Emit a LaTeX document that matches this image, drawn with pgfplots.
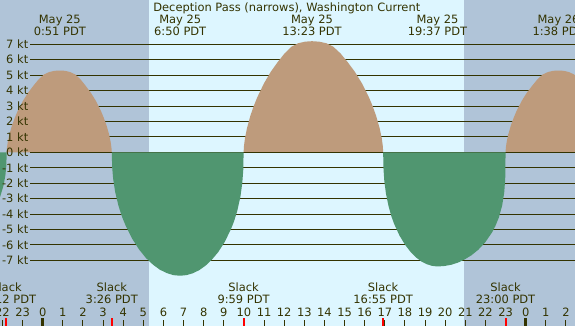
\documentclass[border=0pt]{standalone}
\usepackage{fontspec}
\setmainfont{DejaVu Sans}
\usepackage{pgfplots}
\pgfplotsset{compat=1.18}
\definecolor{night}{RGB}{176,196,216}
\definecolor{day}{RGB}{221,246,255}
\definecolor{flood}{RGB}{190,155,124}
\definecolor{ebb}{RGB}{80,150,112}
\definecolor{fg}{RGB}{51,51,0}
\definecolor{slackred}{RGB}{255,0,0}
\tikzset{lbl/.style={font=\fontsize{11.5}{14}\selectfont, text=fg, inner sep=0pt, anchor=base}}

\begin{document}
\begin{tikzpicture}
\path[use as bounding box] (0,0) rectangle (575bp,326bp);
\clip (0,0) rectangle (575bp,326bp);
\begin{axis}[
    at={(0,0)}, anchor=south west,
    scale only axis,
    width=575bp, height=326bp,
    xmin=-2.1217, xmax=26.45,
    ymin=-11.257, ymax=9.870,
    axis lines=none,
    xtick=\empty, ytick=\empty,
]

% night / day background (sunrise ~5:17, sunset ~20:56)
\addplot[draw=none, fill=night] coordinates {(-3,-12) (5.282,-12) (5.282,11) (-3,11)};
\addplot[draw=none, fill=day] coordinates {(5.282,-12) (20.934,-12) (20.934,11) (5.282,11)};
\addplot[draw=none, fill=night] coordinates {(20.934,-12) (28,-12) (28,11) (20.934,11)};

% kt grid lines
\pgfplotsinvokeforeach{-7,-6,-5,-4,-3,-2,-1,1,2,3,4,5,6,7}{
  \draw[fg, line width=1bp] (axis cs:-0.63,#1) -- (axis cs:28,#1);
}

% flood (positive)
\addplot[draw=none, fill=flood] coordinates {
 (-1.79,0) (-1.777,0.29) (-1.737,0.66) (-1.658,1.15) (-1.526,1.74) (-1.394,2.21) (-1.262,2.62)
 (-0.998,3.30) (-0.734,3.85) (-0.470,4.30) (-0.206,4.72) (0.058,5.04) (0.322,5.20) (0.586,5.28)
 (0.85,5.30) (1.108,5.28) (1.366,5.20) (1.624,5.04) (1.882,4.72) (2.140,4.30) (2.398,3.85)
 (2.656,3.30) (2.914,2.62) (3.043,2.21) (3.172,1.74) (3.301,1.15) (3.378,0.66) (3.417,0.29) (3.433,0)
};
\addplot[draw=none, fill=flood] coordinates {
 (9.983,0) (10.0,0.39) (10.05,0.90) (10.15,1.56) (10.32,2.37) (10.49,3.01) (10.66,3.56)
 (11.00,4.48) (11.34,5.23) (11.68,5.85) (12.02,6.41) (12.36,6.84) (12.70,7.07) (13.04,7.17)
 (13.38,7.20) (13.734,7.17) (14.088,7.07) (14.442,6.84) (14.796,6.41) (15.15,5.85) (15.504,5.23)
 (15.858,4.48) (16.212,3.56) (16.389,3.01) (16.566,2.37) (16.743,1.56) (16.849,0.90) (16.902,0.39) (16.917,0)
};
\addplot[draw=none, fill=flood] coordinates {
 (23.0,0) (23.013,0.29) (23.053,0.66) (23.132,1.15) (23.263,1.74) (23.395,2.21) (23.526,2.62)
 (23.789,3.30) (24.052,3.85) (24.315,4.30) (24.578,4.72) (24.841,5.04) (25.104,5.20) (25.367,5.28)
 (25.63,5.30) (25.89,5.28) (26.15,5.20) (26.41,5.04) (26.67,4.72) (26.67,0)
};

% zero line
\draw[fg, line width=1bp] (axis cs:-0.63,0) -- (axis cs:28,0);

% ebb (negative)
\addplot[draw=none, fill=ebb] coordinates {
 (-2.30,0) (-2.30,-3.50) (-2.27,-3.35) (-2.11,-2.86) (-1.95,-2.17) (-1.854,-1.50) (-1.806,-0.86) (-1.79,0)
};
\addplot[draw=none, fill=ebb] coordinates {
 (3.433,0) (3.45,-0.93) (3.50,-1.71) (3.60,-2.57) (3.77,-3.49) (3.94,-4.17) (4.11,-4.72)
 (4.45,-5.61) (4.79,-6.30) (5.13,-6.85) (5.47,-7.27) (5.81,-7.60) (6.15,-7.82) (6.49,-7.96)
 (6.83,-8.00) (7.145,-7.96) (7.46,-7.84) (7.775,-7.64) (8.09,-7.35) (8.405,-6.96) (8.72,-6.47)
 (9.035,-5.83) (9.35,-5.00) (9.508,-4.47) (9.665,-3.81) (9.823,-2.89) (9.917,-2.00) (9.966,-1.15) (9.983,0)
};
\addplot[draw=none, fill=ebb] coordinates {
 (16.917,0) (16.934,-1.06) (16.974,-1.85) (17.055,-2.67) (17.19,-3.52) (17.325,-4.14) (17.46,-4.63)
 (17.73,-5.40) (18.00,-5.98) (18.27,-6.44) (18.54,-6.80) (18.81,-7.07) (19.08,-7.25) (19.35,-7.36)
 (19.62,-7.40) (19.958,-7.37) (20.296,-7.29) (20.634,-7.15) (20.972,-6.94) (21.31,-6.67) (21.648,-6.31)
 (21.986,-5.84) (22.324,-5.20) (22.493,-4.78) (22.662,-4.24) (22.831,-3.45) (22.932,-2.62) (22.983,-1.73) (23.0,0)
};

% kt labels
\pgfplotsinvokeforeach{-7,...,7}{
  \node[lbl, anchor=east] at (axis cs:-0.706,#1) {#1 kt};
}

% title
\node[lbl] at (axis cs:12.13,9.125) {Deception Pass (narrows), Washington Current};

% max flood / ebb times
\node[lbl] at (axis cs:0.85,8.35) {May 25};    \node[lbl] at (axis cs:0.85,7.54) {0:51 PDT};
\node[lbl] at (axis cs:6.833,8.35) {May 25};   \node[lbl] at (axis cs:6.833,7.54) {6:50 PDT};
\node[lbl] at (axis cs:13.383,8.35) {May 25};  \node[lbl] at (axis cs:13.383,7.54) {13:23 PDT};
\node[lbl] at (axis cs:19.617,8.35) {May 25};  \node[lbl] at (axis cs:19.617,7.54) {19:37 PDT};
\node[lbl] at (axis cs:25.633,8.35) {May 26};  \node[lbl] at (axis cs:25.633,7.54) {1:38 PDT};

% slack times
\node[lbl] at (axis cs:-1.8,-8.99) {Slack};    \node[lbl] at (axis cs:-1.8,-9.83) {22:12 PDT};
\node[lbl] at (axis cs:3.433,-8.99) {Slack};   \node[lbl] at (axis cs:3.433,-9.83) {3:26 PDT};
\node[lbl] at (axis cs:9.983,-8.99) {Slack};   \node[lbl] at (axis cs:9.983,-9.83) {9:59 PDT};
\node[lbl] at (axis cs:16.917,-8.99) {Slack};  \node[lbl] at (axis cs:16.917,-9.83) {16:55 PDT};
\node[lbl] at (axis cs:23.0,-8.99) {Slack};    \node[lbl] at (axis cs:23.0,-9.83) {23:00 PDT};

% hour scale
\pgfplotsinvokeforeach{-2,...,26}{
  \node[lbl] at (axis cs:#1,-10.61) {\pgfmathparse{int(mod(#1+24,24))}\pgfmathresult};
  \draw[fg, line width=1bp] (axis cs:#1,-10.87) -- (axis cs:#1,-11.4);
}
\draw[fg, line width=3.5bp] (axis cs:0,-10.76) -- (axis cs:0,-11.4);
\draw[fg, line width=3.5bp] (axis cs:24,-10.76) -- (axis cs:24,-11.4);
\pgfplotsinvokeforeach{-1.8,3.433,9.983,16.917,23.0}{
  \draw[slackred, line width=2bp] (axis cs:#1,-10.76) -- (axis cs:#1,-11.4);
}

\end{axis}
\end{tikzpicture}
\end{document}
